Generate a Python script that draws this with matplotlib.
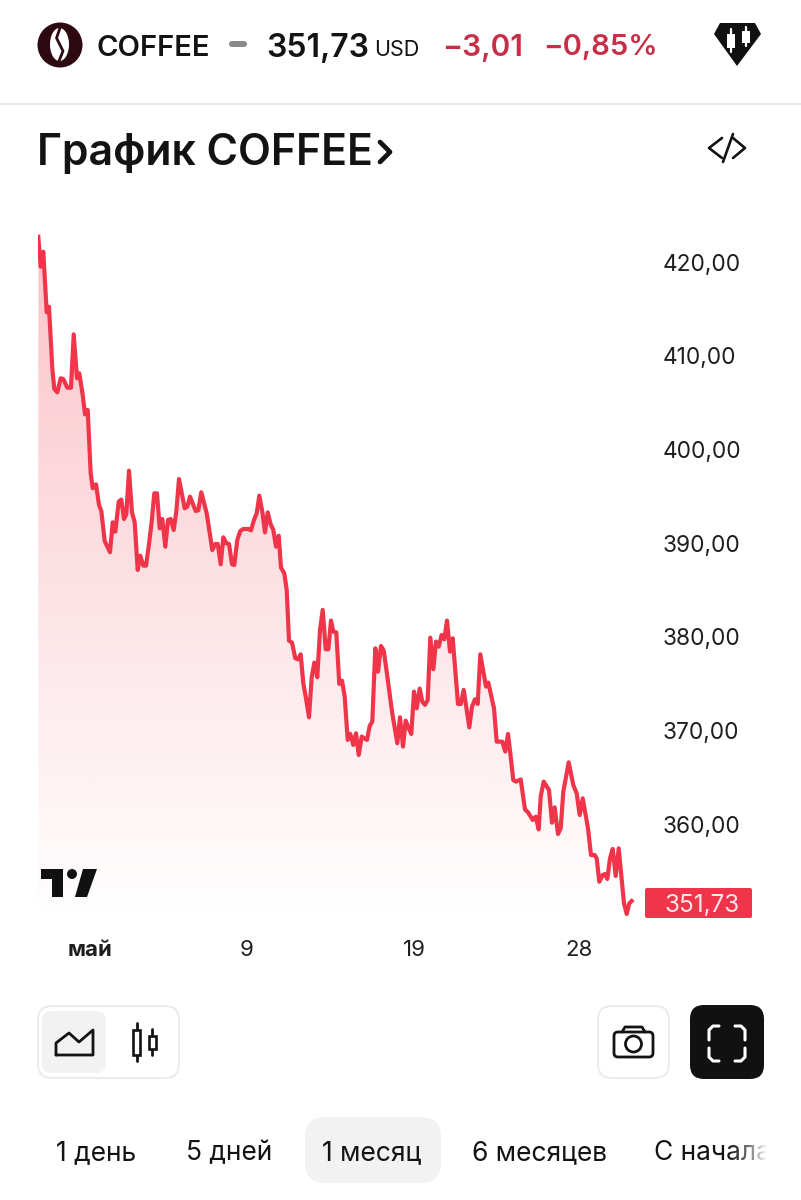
import numpy as np
import matplotlib
matplotlib.use('Agg')
from matplotlib import pyplot as plt
from matplotlib.patches import Circle, Ellipse, FancyBboxPatch, Polygon, Rectangle
from matplotlib.colors import to_rgb

plt.rcParams['font.family'] = ['Inter', 'DejaVu Sans']

# position along the time axis
times = [0.3, 2.7, 5.3, 8.7, 11, 14.3, 16.3, 19.3, 22.7, 25.3, 29.3, 33, 35.7, 39, 41.3, 44.7, 47, 49.7,
         52.7, 54.7, 58, 61, 63.3, 66.7, 72, 74.7, 77.3, 80.7, 83.3, 86, 88.3, 91, 94, 96.7, 99.7, 102.3,
         105.3, 108, 111.3, 113.7, 116.3, 119, 121.7, 124.3, 127.3, 130, 132.7, 135.7, 138.3, 141, 146.7,
         149.3, 152, 157.7, 160.3, 163.3, 168.7, 174.3, 177.3, 179.7, 182.7, 185.3, 188.3, 191, 194, 196.3,
         199.3, 202.3, 205.3, 210.3, 213, 216, 218.7, 221.3, 224.3, 227, 229.7, 232.7, 235.3, 238, 240.7,
         243, 246.3, 248.7,
         251, 254, 257.3, 260, 262.7, 265.3, 268, 271, 273.7, 276.3, 279.3, 282, 284.7, 287.7, 290.3, 293,
         295.3, 298.3, 301.3, 304, 306.7, 309.7, 312.3, 315.3, 318, 320.7, 323.7, 329, 331.7, 334.3, 337.3,
         340, 343, 345.7, 348.7, 354, 359.3, 362, 365, 367.7, 370.3, 373.3, 376, 378.7, 381.7, 384.3, 387,
         389.7, 392.3, 395.3, 398, 400.7, 403.7, 406.3, 409, 412, 414.7, 420, 422.7, 425.7, 431.3, 434, 437,
         439.7, 442.3, 448, 450.3, 456, 458.7, 464.3, 467.3, 470, 472.7,
         475.3, 478, 482.7, 487, 490.3, 494.7, 497.7, 500.7, 502.7, 505.7, 511, 514, 516.7, 520, 522.7,
         525.3, 530.7, 535.3, 538.7, 541.7, 544.7, 550, 553, 556.7, 558.7, 561.3, 564.7, 567, 569.3, 572,
         574.7, 577.7, 580.7, 586, 588.7, 591.3, 593.7]

prices = [422.70, 419.50, 421.10, 414.63, 415.23, 408.65, 406.45, 406.09, 407.59, 407.51, 406.59, 406.59,
          412.28, 407.59, 408.12, 405.81, 403.74, 404.21, 397.45, 395.85, 396.27, 394.07, 393.43, 390.23,
          389.02, 392.22, 391.22, 394.42, 394.64, 392.57, 393.07, 397.73, 393.28, 392.22, 387.13, 388.66,
          387.59, 387.59, 390.15, 392.29, 395.31, 395.31, 391.58, 392.57, 389.62, 392.47, 392.57, 391.40,
          393.36, 396.84, 393.71, 393.89, 394.96, 393.43, 393.50, 395.42, 393.18, 389.26, 389.91, 389.91,
          387.74, 390.62, 389.98, 389.91, 387.74, 387.66, 390.33, 391.29, 391.51, 391.51, 391.36, 392.47,
          393.18, 395.06, 393.36, 391.15, 393.28, 392.00, 391.40, 389.62, 390.79, 387.38, 386.77, 385.00,
          379.59, 379.38, 377.71, 377.60, 378.13, 375.04, 373.44, 371.41, 375.68, 377.24, 375.68, 380.73,
          382.87, 378.67, 378.67, 381.73, 380.55, 380.48, 374.97, 375.32, 373.62, 368.99, 369.63, 368.46,
          369.70, 367.39, 369.35, 368.99, 370.49, 370.95, 378.77, 376.28, 379.02, 378.53, 376.28, 372.02,
          368.64, 371.41, 368.28, 371.05, 370.34, 369.63, 374.15, 372.37, 374.47, 373.08, 372.73, 373.26,
          379.91, 376.53, 379.49, 378.95, 380.20, 379.74, 381.73, 378.42, 379.84, 372.83, 372.83, 374.33,
          370.34, 372.55, 373.33, 372.83, 378.13, 374.68, 375.11, 372.37, 368.81, 368.81, 367.75, 369.63,
          367.20,
          364.71, 364.54, 364.78, 361.58, 361.23, 360.45, 360.80, 359.45, 362.94, 364.54, 363.65, 360.16,
          361.80, 358.95, 359.56, 363.47, 366.60, 364.18, 363.29, 360.98, 362.76, 359.56, 356.71, 356.71,
          356.35, 353.86, 354.58, 354.68, 354.15, 356.35, 357.35, 354.47, 357.42, 351.55, 350.41, 351.55,
          351.80]

y_ticks = [420, 410, 400, 390, 380, 370, 360]
x_ticks = [52, 209, 376, 541]
x_labels = ['май', '9', '19', '28']
last_price = '351,73'
periods = ['1 день', '5 дней', '1 месяц', '6 месяцев', 'С начала']

RED = '#f0344a'
DARK = '#131313'

fig = plt.figure(figsize=(8.01, 12), dpi=100, facecolor='white')

# chart itself
ax = fig.add_axes([38/801, (1200-925)/1200, 600/801, 700/1200])
ax.set_facecolor('none')
for s in ax.spines.values():
    s.set_visible(False)

grad = np.zeros((256, 1, 4))
grad[:, :, :3] = to_rgb(RED)
grad[:, 0, 3] = np.linspace(0.30, 0.0, 256)
im = ax.imshow(grad, extent=(0, 600, 349.24, 423.95), aspect='auto', origin='upper', zorder=1)
area = ax.fill_between(times, prices, 349.24, color='none')
im.set_clip_path(area.get_paths()[0], transform=ax.transData)
ax.plot(times, prices, color=RED, lw=3.0, solid_joinstyle='round', zorder=2)

ax.set_xlim(0, 600)
ax.set_ylim(349.24, 423.95)
ax.yaxis.tick_right()
ax.set_yticks(y_ticks)
ax.set_yticklabels(['%d,00' % v for v in y_ticks], fontsize=16.3, color='#1e1e1e', va='center_baseline')
ax.set_xticks(x_ticks)
ax.set_xticklabels(x_labels, fontsize=16, color='#1e1e1e')
ax.get_xticklabels()[0].set_fontweight('bold')
ax.tick_params(axis='y', length=0, pad=18)
ax.tick_params(axis='x', length=0, pad=10.5)

# everything around the chart, in pixels
ui = fig.add_axes([0, 0, 1, 1], zorder=5)
ui.set_facecolor('none')
ui.axis('off')
ui.set_xlim(0, 801)
ui.set_ylim(1200, 0)


def box(x0, y0, x1, y1, r, fc='white', ec='none', lw=1.5):
    ui.add_patch(FancyBboxPatch((x0, y0), x1-x0, y1-y0, boxstyle='round,pad=0,rounding_size=%g' % r,
                                fc=fc, ec=ec, lw=lw))


def stroke(xs, ys, color=DARK, lw=2.0):
    ui.plot(xs, ys, color=color, lw=lw, solid_capstyle='round', solid_joinstyle='round')


# header
ui.add_patch(Circle((60, 45), 22.5, fc='#2d0a12'))
ui.add_patch(Ellipse((59.5, 44.5), 19, 33, fc='white'))
stroke([60, 56.5, 63, 59], [28, 38, 51, 61], '#2d0a12', 2.0)
ui.text(96.5, 45, 'COFFEE', fontsize=21, fontweight='semibold', color=DARK, va='center_baseline')
box(229, 41, 247, 47, 3, fc='#8a8a8a')
ui.text(266, 45, '351,73', fontsize=23, fontweight='semibold', color=DARK, va='center_baseline')
ui.text(374, 48, 'USD', fontsize=15.5, color=DARK, va='center_baseline')
ui.text(442, 45, '−3,01', fontsize=21.5, fontweight='semibold', color='#c62f47', va='center_baseline')
ui.text(543, 45, '−0,85%', fontsize=21, fontweight='semibold', color='#c62f47', va='center_baseline')
ui.add_patch(Polygon([(720, 23), (755, 23), (761, 34), (737, 66), (714, 34)], fc='#111111'))
for cx, top, bot, b0, b1 in [(731, 29, 52, 34, 48), (746, 27, 46, 31, 43)]:
    stroke([cx, cx], [top, bot], 'white', 1.6)
    ui.add_patch(Rectangle((cx-4, b0), 8, b1-b0, fc='white', ec='none'))
ui.plot([0, 801], [104, 104], color='#e8e8e8', lw=1.3)

ui.text(37, 149, 'График COFFEE', fontsize=30.8, fontweight='semibold', color=DARK, va='center_baseline')
stroke([380, 390, 380], [142, 152, 162], DARK, 3.4)
stroke([722, 709, 722], [138, 148, 158], DARK, 1.9)
stroke([733, 723], [134, 162], DARK, 1.9)
stroke([733, 745, 733], [138, 148, 158], DARK, 1.9)

# tradingview mark
ui.add_patch(Polygon([(41, 869), (63, 869), (63, 897), (52, 897), (52, 879), (41, 879)], fc='#111111'))
ui.add_patch(Circle((72, 874), 5, fc='#111111'))
ui.add_patch(Polygon([(83, 869), (97, 869), (87, 897), (75, 897)], fc='#111111'))

# last price tag
box(645, 888, 752, 918, 2, fc=RED)
ui.text(702, 903, last_price, fontsize=17.5, color='#ffe6e8', ha='center', va='center_baseline')

# chart type buttons
box(38, 1006, 179, 1078, 14, ec='#ececec')
box(42, 1011, 106, 1073, 10, fc='#f2f2f2')
stroke([56, 56, 69, 79, 93, 93, 56], [1055, 1043, 1033, 1042, 1030, 1055, 1055], DARK, 2.0)
for cx, top, bot, b0, b1 in [(136.5, 1023, 1061, 1030, 1055), (152, 1029, 1055, 1036, 1049)]:
    stroke([cx, cx], [top, bot], DARK, 2.0)
    ui.add_patch(Rectangle((cx-3.5, b0), 7, b1-b0, fc='white', ec=DARK, lw=1.9, zorder=3))

# camera and fullscreen
box(598, 1006, 669, 1078, 14, ec='#ececec')
box(614, 1032, 653, 1057, 4, ec=DARK, lw=2.0)
stroke([622, 625, 642, 645], [1032, 1027, 1027, 1032], DARK, 2.0)
ui.add_patch(Circle((633.5, 1044), 8, fc='white', ec=DARK, lw=2.0, zorder=3))
box(690, 1005, 764, 1079, 14, fc='#111111')
stroke([709, 709, 713, 719], [1040, 1030, 1026, 1026], 'white', 2.2)
stroke([735, 741, 745, 745], [1026, 1026, 1030, 1040], 'white', 2.2)
stroke([709, 709, 713, 719], [1048, 1057, 1061, 1061], 'white', 2.2)
stroke([735, 741, 745, 745], [1061, 1061, 1057, 1048], 'white', 2.2)

# period buttons
box(305, 1117, 441, 1183, 20, fc='#f2f2f2')
for name, x in zip(periods, [55.5, 186.5, 322.5, 472.5, 654]):
    ui.text(x, 1150.5, name, fontsize=19, color=DARK, va='center_baseline')
fade = np.ones((1, 256, 4))
fade[0, :, 3] = np.linspace(0, 1, 256)**1.5
ui.imshow(fade, extent=(725, 767, 1130, 1175), aspect='auto', zorder=4)
ui.add_patch(Rectangle((766, 1130), 35, 45, fc='white', ec='none', zorder=4))
ui.set_xlim(0, 801)
ui.set_ylim(1200, 0)

fig.savefig('out.png', dpi=100)
